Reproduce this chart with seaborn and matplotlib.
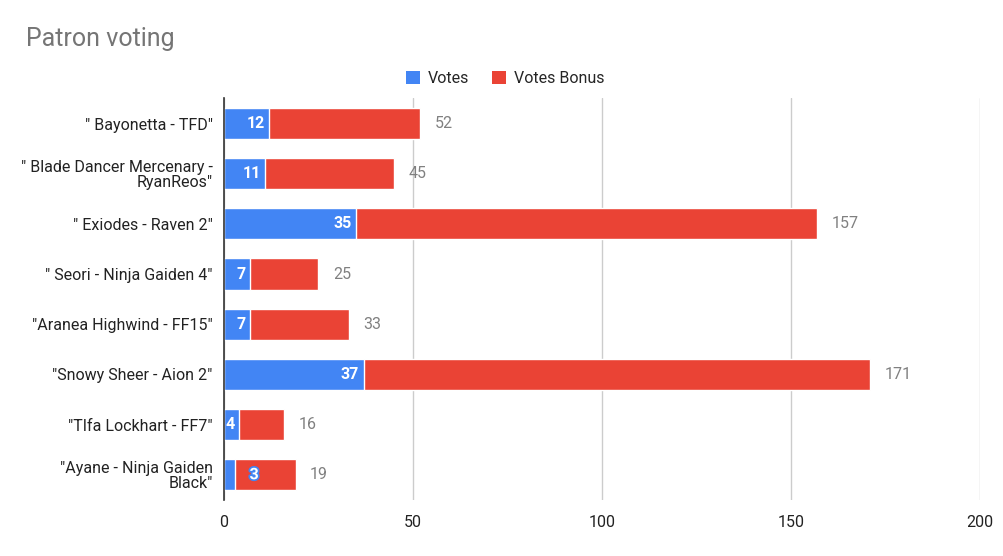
import matplotlib
matplotlib.use("Agg")
import matplotlib.pyplot as plt
import seaborn as sns
import pandas as pd
import matplotlib.patheffects as pe
from matplotlib.patches import Patch

categories = ['" Bayonetta - TFD"', '" Blade Dancer Mercenary -\nRyanReos"', '" Exiodes - Raven 2"',
              '" Seori - Ninja Gaiden 4"', '"Aranea Highwind - FF15"', '"Snowy Sheer - Aion 2"',
              '"TIfa Lockhart - FF7"', '"Ayane - Ninja Gaiden\nBlack"']
votes = [12, 11, 35, 7, 7, 37, 4, 3]
votes_bonus = [40, 34, 122, 18, 26, 134, 12, 16]
totals = [v + b for v, b in zip(votes, votes_bonus)]
xticks = [0, 50, 100, 150, 200]

BLUE = "#4285F4"
RED = "#EA4335"

sns.set_theme(style="white")
plt.rcParams['font.family'] = ['Roboto', 'DejaVu Sans']

df = pd.DataFrame({"cat": categories, "votes": votes, "total": totals})

fig = plt.figure(figsize=(10.04, 5.56), dpi=100)
ax = fig.add_axes([0.223, 0.101, 0.753, 0.722])

sns.barplot(data=df, y="cat", x="total", color=RED, orient="h", width=0.62, ax=ax, saturation=1, zorder=3)
sns.barplot(data=df, y="cat", x="votes", color=BLUE, orient="h", width=0.62, ax=ax, saturation=1, zorder=4)

ax.set_xlim(0, 200)
ax.set_xticks(xticks)
ax.set_xticklabels([str(t) for t in xticks], fontsize=11.5, color="#222222")
ax.set_xlabel("")
ax.set_ylabel("")
ax.tick_params(axis="y", labelsize=11.5, colors="#222222", length=0, pad=8)
ax.tick_params(axis="x", length=0, pad=11)
for lbl in ax.get_yticklabels():
    lbl.set_horizontalalignment("right")
    lbl.set_multialignment("right")
    lbl.set_linespacing(0.95)

ax.grid(axis="x", color="#cccccc", linewidth=1, zorder=0)
ax.set_axisbelow(True)
for s in ["top", "right", "bottom"]:
    ax.spines[s].set_visible(False)
ax.spines["left"].set_color("#333333")
ax.spines["left"].set_linewidth(1.2)
ax.spines["left"].set_zorder(6)

for i, (v, t) in enumerate(zip(votes, totals)):
    if v >= 4:
        ax.text(v - 1.2, i, str(v), ha="right", va="center", color="white",
                fontsize=11.5, fontweight="bold", zorder=7)
    else:
        ax.text(v + 5, i, str(v), ha="center", va="center", color="white",
                fontsize=11.5, fontweight="bold", zorder=7,
                path_effects=[pe.withStroke(linewidth=2.5, foreground=BLUE)])
    ax.text(t + 3.8, i, str(t), ha="left", va="center", color="#808080", fontsize=11.5, zorder=7)

fig.text(0.026, 0.930, "Patron voting", fontsize=18, color="#757575", ha="left", va="center")

handles = [Patch(facecolor=BLUE, edgecolor="none"), Patch(facecolor=RED, edgecolor="none")]
fig.legend(handles, ["Votes", "Votes Bonus"], loc="center", bbox_to_anchor=(0.503, 0.859),
           ncol=2, frameon=False, fontsize=11.5, handlelength=0.9, handleheight=0.9,
           handletextpad=0.5, columnspacing=1.4)

fig.savefig("out.png", dpi=100)
